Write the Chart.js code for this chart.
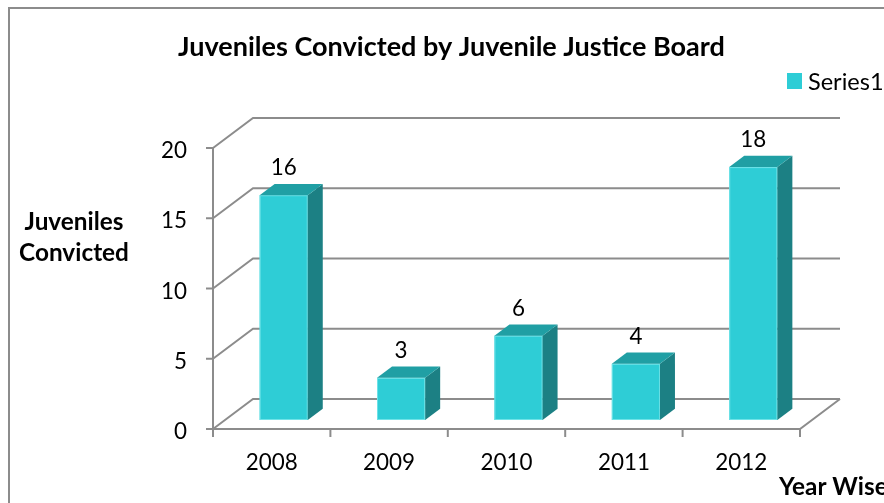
<!DOCTYPE html>
<html><head><meta charset="utf-8">
<script src="https://cdn.jsdelivr.net/npm/chart.js@4/dist/chart.umd.min.js"></script>
<style>
html,body{margin:0;padding:0;background:#fff;overflow:hidden}
#wrap{width:884px;height:503px;position:relative}
</style>
</head><body>
<div id="wrap"><canvas id="c" width="884" height="503"></canvas></div>
<script>
// Data
const years = ['2008', '2009', '2010', '2011', '2012'];
const convicted = [16, 3, 6, 4, 18];
const yTickValues = [0, 5, 10, 15, 20];
const seriesName = 'Series1';
const chartTitle = 'Juveniles Convicted by Juvenile Justice Board';
const yAxisTitle = ['Juveniles', 'Convicted'];
const xAxisTitle = 'Year Wise';

// Look
const FAMILY = 'Lato, "Liberation Sans", sans-serif';
const GRID = '#8c8c8c';
const FRONT = '#2ecdd6';
const SIDE = '#1c8084';
const TOP = '#209fa4';
const DEPTH = { dx: 40, dy: -30 };       // full depth of the floor / walls
const BAR_DEPTH = { from: 0.3, to: 0.675 }; // bar sits inside the depth
const BAR_FRACTION = 0.41;

function fitSize(ctx, text, weight, width) {
  ctx.font = weight + ' 100px ' + FAMILY;
  return 100 * width / ctx.measureText(text).width;
}

const box3d = {
  id: 'box3d',
  beforeDatasetsDraw(chart) {
    const { ctx, chartArea: a, scales: { x, y } } = chart;
    const L = a.left, R = a.right, B = a.bottom;
    const cw = x.getPixelForValue(1) - x.getPixelForValue(0);
    ctx.save();
    ctx.strokeStyle = GRID;
    ctx.lineWidth = 2;
    ctx.lineCap = 'butt';
    // side wall + back wall grid lines
    yTickValues.forEach(v => {
      const py = y.getPixelForValue(v);
      ctx.beginPath();
      ctx.moveTo(L, py);
      ctx.lineTo(L + DEPTH.dx, py + DEPTH.dy);
      ctx.lineTo(R + DEPTH.dx, py + DEPTH.dy);
      ctx.stroke();
    });
    // value axis
    ctx.beginPath();
    ctx.moveTo(L, y.getPixelForValue(yTickValues[yTickValues.length - 1]));
    ctx.lineTo(L, B);
    ctx.stroke();
    // floor front and right edges
    ctx.beginPath();
    ctx.moveTo(L, B);
    ctx.lineTo(R, B);
    ctx.lineTo(R + DEPTH.dx, B + DEPTH.dy);
    ctx.stroke();
    // tick marks
    yTickValues.forEach(v => {
      const py = y.getPixelForValue(v);
      ctx.beginPath(); ctx.moveTo(L - 7, py); ctx.lineTo(L, py); ctx.stroke();
    });
    for (let i = 0; i <= years.length; i++) {
      const px = L + i * cw;
      ctx.beginPath(); ctx.moveTo(px, B); ctx.lineTo(px, B + 8); ctx.stroke();
    }
    // tick labels
    ctx.fillStyle = '#000';
    const numSize = fitSize(ctx, '2008', 'normal', 52);
    ctx.font = 'normal ' + numSize + 'px ' + FAMILY;
    ctx.textAlign = 'right';
    ctx.textBaseline = 'middle';
    yTickValues.forEach(v => {
      ctx.fillText(String(v), L - 26, y.getPixelForValue(v) + 3);
    });
    ctx.textAlign = 'center';
    years.forEach((yr, i) => {
      ctx.fillText(yr, x.getPixelForValue(i), B + 34);
    });
    ctx.restore();
  },
  afterDatasetsDraw(chart) {
    const { ctx, scales: { x, y } } = chart;
    const cw = x.getPixelForValue(1) - x.getPixelForValue(0);
    const half = cw * BAR_FRACTION / 2;
    const fdx = DEPTH.dx * BAR_DEPTH.from, fdy = DEPTH.dy * BAR_DEPTH.from;
    const bdx = DEPTH.dx * BAR_DEPTH.to, bdy = DEPTH.dy * BAR_DEPTH.to;
    const sdx = bdx - fdx, sdy = bdy - fdy;
    ctx.save();
    const numSize = fitSize(ctx, '2008', 'normal', 52);
    convicted.forEach((v, i) => {
      const cx = x.getPixelForValue(i) + fdx;
      const top = y.getPixelForValue(v) + fdy;
      const base = y.getPixelForValue(0) + fdy;
      const l = cx - half, r = cx + half;
      // front face
      ctx.fillStyle = FRONT;
      ctx.fillRect(l, top, r - l, base - top);
      ctx.strokeStyle = '#6fe3e8';
      ctx.lineWidth = 1;
      ctx.strokeRect(l + 0.5, top + 0.5, r - l - 1, base - top - 1);
      // right side face
      ctx.fillStyle = SIDE;
      ctx.beginPath();
      ctx.moveTo(r, top); ctx.lineTo(r + sdx, top + sdy);
      ctx.lineTo(r + sdx, base + sdy); ctx.lineTo(r, base);
      ctx.closePath(); ctx.fill();
      // top face
      ctx.fillStyle = TOP;
      ctx.beginPath();
      ctx.moveTo(l, top); ctx.lineTo(r, top);
      ctx.lineTo(r + sdx, top + sdy); ctx.lineTo(l + sdx, top + sdy);
      ctx.closePath(); ctx.fill();
      // value label
      ctx.fillStyle = '#000';
      ctx.font = 'normal ' + numSize + 'px ' + FAMILY;
      ctx.textAlign = 'center';
      ctx.textBaseline = 'middle';
      ctx.fillText(String(v), cx, top + sdy - 16);
    });
    ctx.restore();
  },
  afterDraw(chart) {
    const { ctx } = chart;
    ctx.save();
    // outer frame
    ctx.strokeStyle = '#8c8c8c';
    ctx.lineWidth = 2;
    ctx.beginPath();
    ctx.moveTo(9, 503); ctx.lineTo(9, 8); ctx.lineTo(884, 8);
    ctx.stroke();
    ctx.fillStyle = '#000';
    ctx.textBaseline = 'middle';
    // title
    const tSize = fitSize(ctx, chartTitle, 'bold', 547);
    ctx.font = 'bold ' + tSize + 'px ' + FAMILY;
    ctx.textAlign = 'left';
    ctx.fillText(chartTitle, 178, 47);
    // legend
    ctx.fillStyle = FRONT;
    ctx.fillRect(787, 73, 15, 16);
    ctx.fillStyle = '#000';
    const lSize = fitSize(ctx, '2008', 'normal', 52) * 1.05;
    ctx.font = 'normal ' + lSize + 'px ' + FAMILY;
    ctx.fillText(seriesName, 808, 82);
    // value axis title
    const ySize = fitSize(ctx, yAxisTitle[0], 'bold', 99);
    ctx.font = 'bold ' + ySize + 'px ' + FAMILY;
    ctx.textAlign = 'center';
    ctx.fillText(yAxisTitle[0], 74, 222);
    ctx.fillText(yAxisTitle[1], 74, 253);
    // category axis title
    ctx.textAlign = 'left';
    ctx.fillText(xAxisTitle, 779, 487);
    ctx.restore();
  }
};

new Chart(document.getElementById('c'), {
  type: 'bar',
  data: {
    labels: years,
    datasets: [{
      label: seriesName,
      data: convicted,
      backgroundColor: 'rgba(0,0,0,0)',
      borderWidth: 0
    }]
  },
  options: {
    responsive: false,
    devicePixelRatio: 1,
    animation: false,
    layout: { padding: { left: 213, right: 84, top: 148, bottom: 74 } },
    plugins: { legend: { display: false }, title: { display: false }, tooltip: { enabled: false } },
    scales: {
      x: { display: false },
      y: { display: false, min: 0, max: 20, ticks: { stepSize: 5 } }
    }
  },
  plugins: [box3d]
});
</script>
</body></html>
